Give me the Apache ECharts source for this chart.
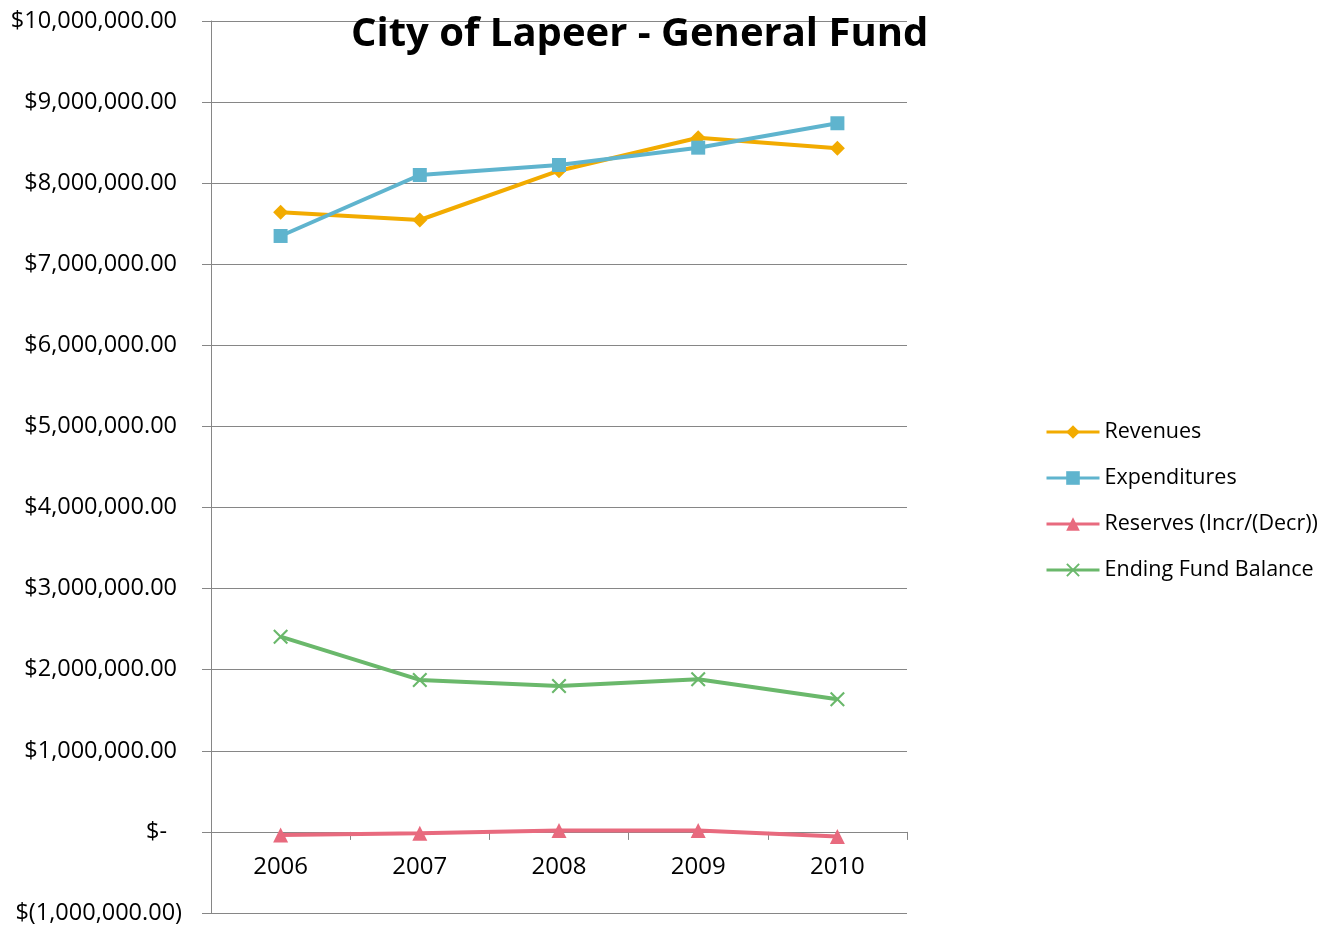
<!DOCTYPE html>
<html>
<head>
<meta charset="utf-8">
<script src="https://cdn.jsdelivr.net/npm/echarts@6/dist/echarts.min.js"></script>
<style>html,body{margin:0;padding:0;background:#fff}#c{width:1328px;height:929px}</style>
</head>
<body>
<div id="c"></div>
<script>
var years = ['2006', '2007', '2008', '2009', '2010'];
var revenues = [7641000, 7546000, 8154000, 8561000, 8430000];
var expenditures = [7349000, 8101000, 8224000, 8438000, 8739000];
var reserves = [-37000, -16000, 16000, 16000, -58000];
var endingFundBalance = [2408000, 1874000, 1800000, 1883000, 1636000];
var titleText = 'City of Lapeer - General Fund';
var yMin = -1000000, yMax = 10000000, yInterval = 1000000;

var FONT = '"Open Sans", "Noto Sans", sans-serif';
var crossPath = 'path://M0,1 L1,0 L5,4 L9,0 L10,1 L6,5 L10,9 L9,10 L5,6 L1,10 L0,9 L4,5 Z';

var gridTop = 21, gridBottom = 16, H = 929;
var plotH = H - gridTop - gridBottom;
// distance of the zero line above the bottom of the plot
var zeroOffset = plotH * (0 - yMin) / (yMax - yMin);

function fmt(v) {
  if (v === 0) return '{z|$-}';
  var s = Math.abs(v).toLocaleString('en-US', {minimumFractionDigits: 2, maximumFractionDigits: 2});
  if (v < 0) return '{n|$(' + s + ')}';
  return '{p|$' + s + '}';
}

var chart = echarts.init(document.getElementById('c'), null, {renderer: 'canvas'});
var lbl = {fontFamily: FONT, fontSize: 23.5, color: '#000'};
chart.setOption({
  backgroundColor: '#fff',
  animation: false,
  title: {
    text: titleText,
    left: 346, top: 10,
    textStyle: {fontFamily: FONT, fontWeight: 'bold', fontSize: 40, color: '#000'}
  },
  legend: {
    orient: 'vertical',
    left: 1045, top: 421,
    padding: 0,
    itemWidth: 53, itemHeight: 17,
    itemGap: 24,
    lineStyle: {width: 3},
    textStyle: {fontFamily: FONT, fontSize: 21.5, color: '#000'},
    data: ['Revenues', 'Expenditures', 'Reserves (Incr/(Decr))', 'Ending Fund Balance']
  },
  grid: {left: 211, right: 421, top: gridTop, bottom: gridBottom, containLabel: false, outerBoundsMode: 'none'},
  xAxis: {
    type: 'category',
    data: years,
    boundaryGap: true,
    position: 'bottom',
    offset: -zeroOffset,
    axisLine: {onZero: false, lineStyle: {color: '#868686', width: 1}},
    axisTick: {show: true, length: 8, alignWithLabel: false, lineStyle: {color: '#868686'}},
    axisLabel: {fontFamily: FONT, fontSize: 24, color: '#000', margin: 23},
    splitLine: {show: false}
  },
  yAxis: {
    type: 'value',
    min: yMin, max: yMax, interval: yInterval,
    axisLine: {show: true, lineStyle: {color: '#868686', width: 1}},
    axisTick: {show: true, length: 9, lineStyle: {color: '#868686'}},
    splitLine: {show: true, lineStyle: {color: '#868686', width: 1}},
    axisLabel: {
      margin: 29,
      formatter: fmt,
      rich: {
        p: Object.assign({padding: [0, 5, 0, 0]}, lbl),
        n: Object.assign({padding: [0, 0, 0, 0]}, lbl),
        z: Object.assign({padding: [0, 15, 0, 0]}, lbl)
      }
    }
  },
  series: [
    {name: 'Revenues', type: 'line', data: revenues, symbol: 'diamond', symbolSize: 15,
     lineStyle: {color: '#F2AB00', width: 4}, itemStyle: {color: '#F2AB00'}},
    {name: 'Expenditures', type: 'line', data: expenditures, symbol: 'rect', symbolSize: 14,
     lineStyle: {color: '#5FB4CE', width: 4}, itemStyle: {color: '#5FB4CE'}},
    {name: 'Reserves (Incr/(Decr))', type: 'line', data: reserves, symbol: 'triangle', symbolSize: 15,
     lineStyle: {color: '#E86A7E', width: 4}, itemStyle: {color: '#E86A7E'}},
    {name: 'Ending Fund Balance', type: 'line', data: endingFundBalance, symbol: crossPath, symbolSize: 15,
     lineStyle: {color: '#6AB86B', width: 4}, itemStyle: {color: '#6AB86B'}}
  ]
});
</script>
</body>
</html>
